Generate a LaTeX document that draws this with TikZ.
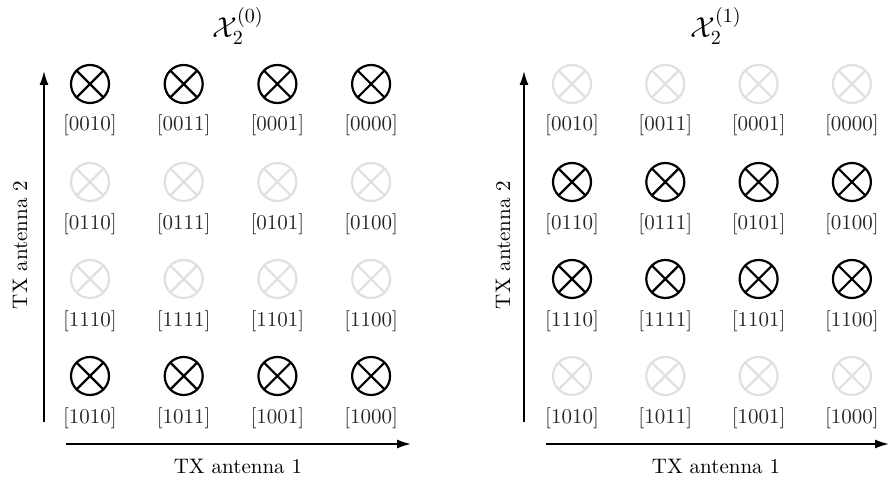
\documentclass[tikz,border=0pt]{standalone}
\usetikzlibrary{arrows.meta}
\begin{document}
\begin{tikzpicture}[x=0.5pt,y=-0.5pt,
  sym/.style={circle, draw, line width=1.1pt, minimum size=19pt, inner sep=0pt,
    path picture={\draw[line width=1.1pt] (path picture bounding box.north west) -- (path picture bounding box.south east)
      (path picture bounding box.north east) -- (path picture bounding box.south west);}},
  on/.style={sym, color=black},
  off/.style={sym, color=black!12},
  lbl/.style={font=\fontsize{10.5}{12}\selectfont, text=black!85, inner sep=0pt},
  axis/.style={line width=1.4pt, -{Latex[length=7.5pt,width=4.5pt]}},
  axlbl/.style={font=\fontsize{10.5}{12}\selectfont, inner sep=0pt},
  ttl/.style={font=\Large, inner sep=0pt}]
\useasboundingbox (0,0) rectangle (890,480);
% titles
\node[ttl] (t0) at (238,26) {$\mathcal{X}_2^{(0)}$};
\node[ttl] (t1) at (716,26) {$\mathcal{X}_2^{(1)}$};
% left panel
\foreach \lab [count=\i from 0] in {0010,0011,0001,0000} {
  \node[on]  (La\i) at (90+93.7*\i,84) {};
  \node[lbl] (lLa\i) at (90+93.7*\i,125) {[\lab]};
}
\foreach \lab [count=\i from 0] in {0110,0111,0101,0100} {
  \node[off] (Lb\i) at (90+93.7*\i,182) {};
  \node[lbl] (lLb\i) at (90+93.7*\i,224) {[\lab]};
}
\foreach \lab [count=\i from 0] in {1110,1111,1101,1100} {
  \node[off] (Lc\i) at (90+93.7*\i,279) {};
  \node[lbl] (lLc\i) at (90+93.7*\i,321) {[\lab]};
}
\foreach \lab [count=\i from 0] in {1010,1011,1001,1000} {
  \node[on]  (Ld\i) at (90+93.7*\i,376) {};
  \node[lbl] (lLd\i) at (90+93.7*\i,418) {[\lab]};
}
% right panel
\foreach \lab [count=\i from 0] in {0010,0011,0001,0000} {
  \node[off] (Ra\i) at (572+93.3*\i,84) {};
  \node[lbl] (lRa\i) at (572+93.3*\i,125) {[\lab]};
}
\foreach \lab [count=\i from 0] in {0110,0111,0101,0100} {
  \node[on]  (Rb\i) at (572+93.3*\i,182) {};
  \node[lbl] (lRb\i) at (572+93.3*\i,224) {[\lab]};
}
\foreach \lab [count=\i from 0] in {1110,1111,1101,1100} {
  \node[on]  (Rc\i) at (572+93.3*\i,279) {};
  \node[lbl] (lRc\i) at (572+93.3*\i,321) {[\lab]};
}
\foreach \lab [count=\i from 0] in {1010,1011,1001,1000} {
  \node[off] (Rd\i) at (572+93.3*\i,376) {};
  \node[lbl] (lRd\i) at (572+93.3*\i,418) {[\lab]};
}
% axes
\coordinate (LvS) at (44,422); \coordinate (LvE) at (44,70);
\coordinate (LhS) at (66,444); \coordinate (LhE) at (412,444);
\coordinate (RvS) at (524,422); \coordinate (RvE) at (524,70);
\coordinate (RhS) at (546,444); \coordinate (RhE) at (890,444);
\draw[axis] (LvS) -- (LvE);
\draw[axis] (LhS) -- (LhE);
\draw[axis] (RvS) -- (RvE);
\draw[axis] (RhS) -- (RhE);
\node[axlbl] (xl0) at (238,466) {TX antenna 1};
\node[axlbl] (xl1) at (716,466) {TX antenna 1};
\node[axlbl, rotate=90] (yl0) at (20,245) {TX antenna 2};
\node[axlbl, rotate=90] (yl1) at (503,245) {TX antenna 2};
\end{tikzpicture}
\end{document}
